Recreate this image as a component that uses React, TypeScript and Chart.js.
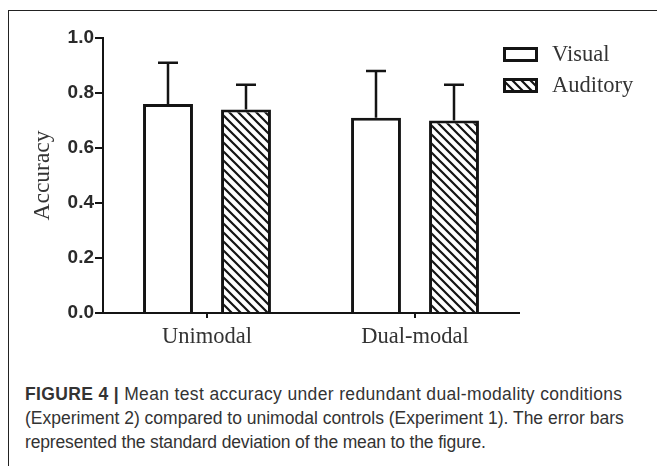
import React, { useEffect, useRef } from "react";
import { Chart, registerables } from "chart.js";

Chart.register(...registerables);

const categories = ["Unimodal", "Dual-modal"];
const seriesLabels = ["Visual", "Auditory"];
const visualMean = [0.76, 0.71];
const visualSD = [0.15, 0.17];
const auditoryMean = [0.74, 0.7];
const auditorySD = [0.09, 0.13];
const yMin = 0;
const yMax = 1.0;
const yStep = 0.2;
const yTitle = "Accuracy";
const captionLead = "FIGURE 4 |";
const captionLines = [
  " Mean test accuracy under redundant dual-modality conditions",
  "(Experiment 2) compared to unimodal controls (Experiment 1). The error bars",
  "represented the standard deviation of the mean to the figure.",
];

const INK = "#141414";

function makeHatch(): CanvasPattern | string {
  const s = 9;
  const c = document.createElement("canvas");
  c.width = s;
  c.height = s;
  const g = c.getContext("2d");
  if (!g) return "#888";
  g.fillStyle = "#ffffff";
  g.fillRect(0, 0, s, s);
  g.strokeStyle = INK;
  g.lineWidth = 2.2;
  g.beginPath();
  g.moveTo(-3, -3);
  g.lineTo(s + 3, s + 3);
  g.moveTo(-3, s - 3);
  g.lineTo(3, s + 3);
  g.moveTo(s - 3, -3);
  g.lineTo(s + 3, 3);
  g.stroke();
  return g.createPattern(c, "repeat") || "#888";
}

const errorBarPlugin = {
  id: "errorBars",
  afterDatasetsDraw(chart: any) {
    const ctx = chart.ctx;
    const yScale = chart.scales.y;
    ctx.save();
    ctx.strokeStyle = INK;
    ctx.lineWidth = 2.5;
    chart.data.datasets.forEach((ds: any, di: number) => {
      const meta = chart.getDatasetMeta(di);
      meta.data.forEach((el: any, i: number) => {
        const top = yScale.getPixelForValue(ds.data[i] + ds.sd[i]);
        const x = el.x;
        ctx.beginPath();
        ctx.moveTo(x, el.y);
        ctx.lineTo(x, top);
        ctx.moveTo(x - 10, top);
        ctx.lineTo(x + 10, top);
        ctx.stroke();
      });
    });
    ctx.restore();
  },
};

const legendPlugin = {
  id: "customLegend",
  afterDraw(chart: any) {
    const ctx = chart.ctx;
    const area = chart.chartArea;
    ctx.save();
    chart.data.datasets.forEach((ds: any, i: number) => {
      const bx = area.right - 16;
      const by = 47 + i * 31;
      ctx.fillStyle = ds.backgroundColor;
      ctx.fillRect(bx, by, 35, 15);
      ctx.strokeStyle = INK;
      ctx.lineWidth = 3;
      ctx.strokeRect(bx + 1.5, by + 1.5, 32, 12);
      ctx.fillStyle = "#333";
      ctx.font = "22.5px 'Liberation Serif'";
      ctx.textBaseline = "middle";
      ctx.textAlign = "left";
      ctx.fillText(ds.label, bx + 49, by + 8);
    });
    ctx.restore();
  },
};

export default function App() {
  const ref = useRef<HTMLCanvasElement | null>(null);

  useEffect(() => {
    if (!ref.current) return;
    const hatch = makeHatch();
    const chart = new Chart(ref.current, {
      type: "bar",
      data: {
        labels: categories,
        datasets: [
          {
            label: seriesLabels[0],
            data: visualMean,
            sd: visualSD,
            backgroundColor: "#ffffff",
            borderColor: INK,
            borderWidth: 3,
          } as any,
          {
            label: seriesLabels[1],
            data: auditoryMean,
            sd: auditorySD,
            backgroundColor: hatch,
            borderColor: INK,
            borderWidth: 3,
          } as any,
        ],
      },
      options: {
        animation: false,
        responsive: true,
        maintainAspectRatio: false,
        layout: { padding: { top: 38, right: 138, left: 0, bottom: 0 } },
        datasets: { bar: { barPercentage: 0.64, categoryPercentage: 0.75 } },
        plugins: {
          legend: { display: false },
          tooltip: { enabled: false },
        },
        scales: {
          x: {
            grid: {
              display: true,
              drawOnChartArea: false,
              drawTicks: true,
              tickLength: 5,
              offset: false,
              color: INK,
              lineWidth: 2,
            },
            border: { display: true, color: INK, width: 2 },
            ticks: {
              color: "#333",
              font: { family: "'Liberation Serif'", size: 22.5 },
              padding: 6,
            },
            afterFit: (s: any) => {
              s.height = 57;
            },
          },
          y: {
            min: yMin,
            max: yMax,
            ticks: {
              stepSize: yStep,
              callback: (v: any) => Number(v).toFixed(1),
              color: "#2a2a2a",
              font: { family: "'Liberation Sans'", size: 19, weight: "bold" },
              padding: 1,
            },
            grid: {
              drawOnChartArea: false,
              drawTicks: true,
              tickLength: 8,
              color: INK,
              lineWidth: 2,
            },
            border: { display: true, color: INK, width: 2 },
            title: {
              display: true,
              text: yTitle,
              color: "#333",
              font: { family: "'Liberation Serif'", size: 23.5 },
              padding: { top: 29, bottom: 0 },
            },
            afterFit: (s: any) => {
              s.width = 103;
            },
          },
        },
      } as any,
      plugins: [errorBarPlugin, legendPlugin],
    });
    return () => chart.destroy();
  }, []);

  return (
    <div style={{ position: "absolute", left: 0, top: 0, width: 657, height: 466, background: "#fff", overflow: "hidden" }}>
      <div
        style={{
          position: "absolute",
          left: 8,
          top: 10,
          width: 700,
          height: 500,
          borderLeft: "1.5px solid #222",
          borderTop: "1.5px solid #222",
        }}
      />
      <div style={{ position: "absolute", left: 0, top: 0, width: 657, height: 370 }}>
        <canvas ref={ref} />
      </div>
      <div
        style={{
          position: "absolute",
          left: 25,
          top: 382,
          fontFamily: "'Liberation Sans', Arial, sans-serif",
          fontSize: 17.5,
          lineHeight: "24px",
          color: "#333",
          whiteSpace: "nowrap",
        }}
      >
        <div style={{ letterSpacing: "0.35px" }}>
          <span style={{ fontWeight: "bold" }}>{captionLead}</span>
          {captionLines[0]}
        </div>
        <div>{captionLines[1]}</div>
        <div style={{ letterSpacing: "-0.15px" }}>{captionLines[2]}</div>
      </div>
    </div>
  );
}
